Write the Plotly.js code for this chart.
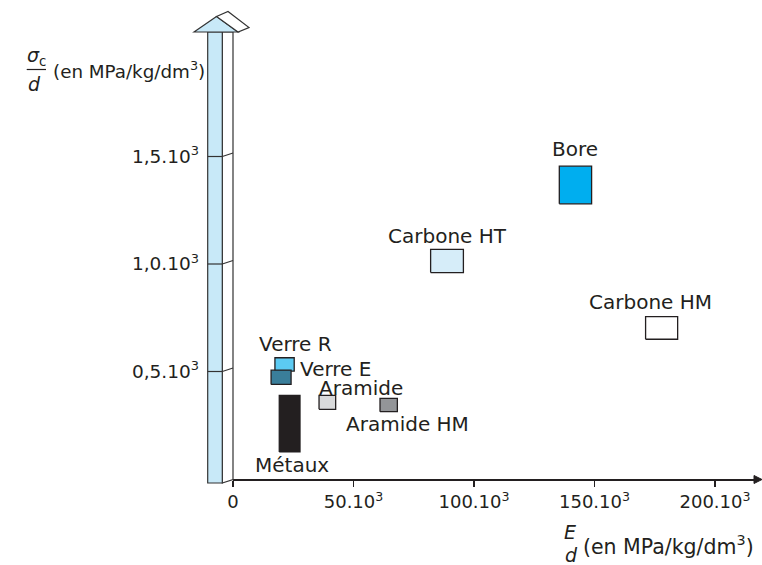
<!DOCTYPE html>
<html><head><meta charset="utf-8">
<script src="https://cdn.plot.ly/plotly-3.0.1.min.js"></script>
<style>html,body{margin:0;padding:0;background:#fff}#chart{width:762px;height:565px}</style>
</head><body><div id="chart"></div>
<script>
// ---- data ----
const materials = ['Bore','Carbone HT','Carbone HM','Verre R','Verre E','Aramide','Aramide HM','Métaux'];
const xMin = [135400, 82000, 171200, 17400, 15800, 35700, 61000, 19200];
const xMax = [148800, 95600, 184500, 25400, 24100, 42600, 68200, 27800];
const yMin = [1280, 960, 650, 502, 440, 324, 313, 126];
const yMax = [1455, 1068, 755, 564, 506, 389, 375, 389];
const xTickVals = [0, 50000, 100000, 150000, 200000];
const xTickText = ['0','50.10<sup>3</sup>','100.10<sup>3</sup>','150.10<sup>3</sup>','200.10<sup>3</sup>'];
const yTickVals = [500, 1000, 1500];
const yTickText = ['0,5.10<sup>3</sup>','1,0.10<sup>3</sup>','1,5.10<sup>3</sup>'];

// ---- styles ----
const fillColors = ['#00aeef','#d6edf9','#ffffff','#5ccbf3','#3a7e9a','#d9dadb','#939598','#231f20'];
// label placement: anchor on box, pixel shifts
const labelPlace = [
  {at:'top', xa:'center', dx:0, dy:17},
  {at:'top', xa:'center', dx:0, dy:13},
  {at:'top', xa:'center', dx:-11, dy:15},
  {at:'top', xa:'center', dx:11, dy:14},
  {at:'right', xa:'left', dx:7, dy:1},
  {at:'topleft', xa:'left', dx:-2, dy:7},
  {at:'bottom', xa:'center', dx:19, dy:-12.5},
  {at:'bottom', xa:'center', dx:2, dy:-13}
];
const ink = '#231f20';
const FONT = 'DejaVu Sans, sans-serif';

const W = 762, H = 565;
const L = 233, R = 755, T = 10, B = 479;
const xSpan = (R - L) / 120.5 * 50000;
const ySpan = (B - T) / 107.5 * 500;
const px = p => (p - L) / (R - L);
const py = p => (B - p) / (B - T);

// ---- traces: boxes ----
const traces = materials.map((m, i) => ({
  type: 'scatter', mode: 'lines', name: m, showlegend: false, hoverinfo: 'name',
  x: [xMin[i], xMax[i], xMax[i], xMin[i], xMin[i]],
  y: [yMin[i], yMin[i], yMax[i], yMax[i], yMin[i]],
  fill: 'toself', fillcolor: fillColors[i],
  line: {color: ink, width: 1.3}
}));

// ---- shapes: 3D vertical arrow and axis arrowhead ----
const faceBlue = '#c8e9f8';
const edge = {color: '#333', width: 1.2};
function poly(pts) {
  return 'M ' + pts.map(p => px(p[0]) + ',' + py(p[1])).join(' L ') + ' Z';
}
const shapes = [
  {type:'path', xref:'paper', yref:'paper', path: poly([[222.3,32],[233,32],[233,479.5],[222.3,483]]), fillcolor:'#ffffff', line: edge},
  {type:'path', xref:'paper', yref:'paper', path: poly([[207.7,32],[222.3,32],[222.3,483],[207.7,483]]), fillcolor: faceBlue, line: edge},
  {type:'path', xref:'paper', yref:'paper', path: poly([[194,32],[216.5,16.5],[238,32]]), fillcolor: faceBlue, line: edge},
  {type:'path', xref:'paper', yref:'paper', path: poly([[216.5,16.5],[228,11.5],[249,27.5],[238,32]]), fillcolor:'#ffffff', line: edge},
  {type:'path', xref:'paper', yref:'paper', path: poly([[754,475.5],[762,479.5],[754,483.5]]), fillcolor: ink, line:{color: ink, width: 1}},
  // fraction bar of the y title
  {type:'line', xref:'paper', yref:'paper', x0: px(26.7), x1: px(46), y0: py(69.5), y1: py(69.5), line:{color: ink, width: 1.2}}
];
yTickVals.forEach(v => {
  const yp = v / ySpan;
  const yPix = B - yp * (B - T);
  shapes.push({type:'line', xref:'paper', yref:'paper', x0: px(207.7), x1: px(222.3), y0: yp, y1: yp, line: edge});
  shapes.push({type:'line', xref:'paper', yref:'paper', x0: px(222.3), x1: px(233), y0: yp, y1: py(yPix - 3.5), line: edge});
});

// ---- annotations: material labels ----
const annotations = materials.map((m, i) => {
  const p = labelPlace[i];
  let x = (xMin[i] + xMax[i]) / 2, y = yMax[i];
  if (p.at === 'bottom') y = yMin[i];
  if (p.at === 'right') x = xMax[i];
  if (p.at === 'topleft') x = xMin[i];
  return {x, y, xref:'x', yref:'y', text: m, showarrow:false, xanchor: p.xa, yanchor:'middle',
    xshift: p.dx, yshift: p.dy, font:{family: FONT, size: 20, color: ink}};
});
// axis titles
annotations.push(
  {xref:'paper', yref:'paper', x: px(36), y: py(56.5), text:'<i>σ</i><sub>c</sub>', showarrow:false, xanchor:'center', yanchor:'middle', font:{family: FONT, size: 19, color: ink}},
  {xref:'paper', yref:'paper', x: px(34), y: py(84), text:'<i>d</i>', showarrow:false, xanchor:'center', yanchor:'middle', font:{family: FONT, size: 19, color: ink}},
  {xref:'paper', yref:'paper', x: px(51), y: py(70), text:'(en MPa/kg/dm<sup>3</sup>)', showarrow:false, xanchor:'left', yanchor:'middle', font:{family: FONT, size: 18.3, color: ink}},
  {xref:'paper', yref:'paper', x: px(570), y: py(532), text:'<i>E</i>', showarrow:false, xanchor:'center', yanchor:'middle', font:{family: FONT, size: 19, color: ink}},
  {xref:'paper', yref:'paper', x: px(571), y: py(555), text:'<i>d</i>', showarrow:false, xanchor:'center', yanchor:'middle', font:{family: FONT, size: 19, color: ink}},
  {xref:'paper', yref:'paper', x: px(581), y: py(545), text:'(en MPa/kg/dm<sup>3</sup>)', showarrow:false, xanchor:'left', yanchor:'middle', font:{family: FONT, size: 20.5, color: ink}}
);

const layout = {
  width: W, height: H,
  margin: {l: L, r: W - R, t: T, b: H - B, pad: 0},
  paper_bgcolor: '#ffffff', plot_bgcolor: 'rgba(0,0,0,0)',
  showlegend: false,
  font: {family: FONT, color: ink},
  xaxis: {range: [0, xSpan], showgrid:false, zeroline:false, showline:true, linecolor: ink, linewidth: 1.5,
    ticks:'outside', ticklen: 6, tickwidth: 1.2, tickcolor: ink,
    tickvals: xTickVals, ticktext: xTickText, tickfont:{family: FONT, size: 18, color: ink}, fixedrange: true},
  yaxis: {range: [0, ySpan], showgrid:false, zeroline:false, showline:false, ticks:'',
    tickvals: yTickVals, ticktext: yTickText, tickfont:{family: FONT, size: 18.5, color: ink},
    ticklabelstandoff: 33, fixedrange: true},
  shapes, annotations
};

Plotly.newPlot('chart', traces, layout, {staticPlot: true, displayModeBar: false});
</script>
</body></html>
